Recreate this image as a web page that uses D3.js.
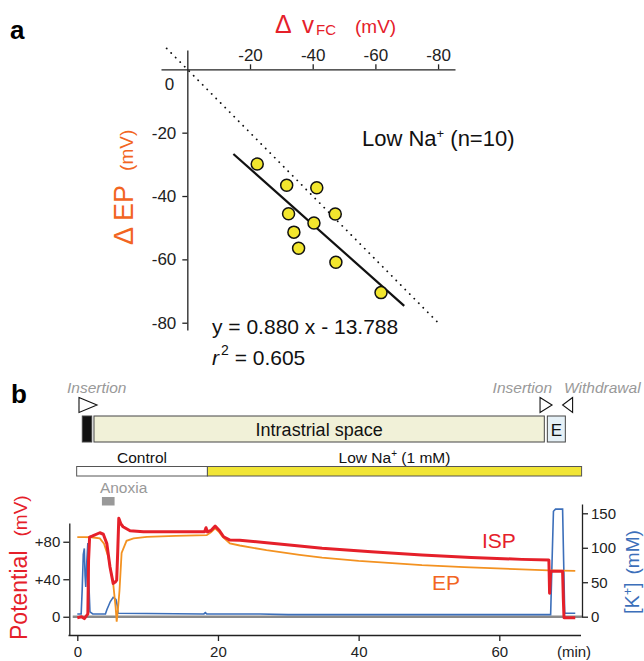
<!DOCTYPE html>
<html>
<head>
<meta charset="utf-8">
<script src="https://cdn.jsdelivr.net/npm/d3@7"></script>
<style>
  body { margin: 0; background: #fff; }
  svg { display: block; font-family: "Liberation Sans", Arial, Helvetica, sans-serif; }
</style>
</head>
<body>
<svg id="fig" width="644" height="661"></svg>
<script>
// ---- panel a : Low Na+ experiments ----
const dVfc = [-22.3, -31.7, -41.3, -32.3, -47.2, -40.4, -34.0, -35.5, -47.4, -61.8];
const dEP  = [-29.9, -36.6, -37.4, -45.6, -45.7, -48.5, -51.4, -56.5, -60.9, -70.5];
const fitSlope = 0.880, fitIntercept = -13.788, fitR2 = 0.605;
const fitSpan = [-14.7, -69.2];       // range of x covered by regression line
const identitySpan = [6.6, -80];      // dotted y = x line
const aTicks = [-20, -40, -60, -80];

// ---- panel b : time course ----
const timeTicks = [0, 20, 40, 60];
const potTicks = [0, 40, 80];
const kTicks = [0, 50, 100, 150];

// [min, mV]
const epTrace = [
  [0, 85], [1, 85], [2, 84.8], [3.2, 83.6], [3.8, 78], [4.4, 64], [5.1, 35.6], [5.45, 10],
  [5.6, -5.3], [5.8, 10], [6.0, 28], [6.3, 68], [7.0, 81], [8, 83.5], [9.9, 85.3], [14, 86.3],
  [18.4, 87], [19.0, 90], [19.6, 94.3], [20.2, 90], [20.7, 85], [21.7, 78.3], [23.1, 76],
  [26.9, 71], [31.6, 66], [34.8, 63], [40, 59.5], [49, 55], [55, 53], [63.2, 50.5], [67, 49.5], [70.8, 49]
];
const ispTrace = [
  [0, -1], [0.6, 0], [1.0, -2], [1.3, 1], [1.5, 3], [1.6, 60], [1.75, 85], [2.1, 86], [3.2, 89.6],
  [3.7, 88], [4.2, 78], [4.65, 53], [5.1, 35.6], [5.4, 37], [5.6, 39], [5.75, 70], [5.9, 105],
  [6.2, 99], [6.5, 96], [7.5, 91.7], [9.4, 90.7], [18.1, 90.7], [18.3, 95], [18.5, 90.5], [19.0, 92],
  [19.6, 96.7], [20.2, 92], [20.8, 85.3], [21.7, 81.8], [23.1, 81.5], [26.9, 79], [31.6, 75.4],
  [34.8, 73], [41.8, 69.4], [49, 65.8], [56, 63.3], [63.2, 61.2], [67.05, 60.5], [67.15, 25],
  [67.3, 48], [67.5, 48.5], [69.0, 48.5], [69.1, 20], [69.2, -1], [70.8, -1]
];
// [min, mM]
const kTrace = [
  [0, 4], [0.55, 4], [0.7, 40], [0.85, 90], [1.0, 99], [1.1, 60], [1.2, 43], [1.35, 80], [1.5, 107],
  [1.6, 60], [1.8, 7], [2.2, 4], [4.0, 4], [4.2, 10], [4.7, 22], [5.1, 28], [5.5, 25], [5.7, 15],
  [5.8, 5], [18, 4], [18.2, 6], [18.4, 4], [26, 4], [30, 3], [67.3, 3], [67.5, 80], [67.7, 153],
  [68, 156], [69.0, 156], [69.15, 80], [69.3, 5], [70.8, 5]
];

// recording protocol (times in min)
const compLabels = ["", "Intrastrial space", "E"];
const compStart = [0.71, 2.37, 66.83];
const compEnd = [2.05, 66.4, 69.39];
const condLabels = ["Control", "Low Na"];
const condStart = [-0.09, 18.5];
const condEnd = [18.5, 71.7];
const anoxia = [3.5, 5.3];
const insertTimes = [2.8, 67.5];
const withdrawTime = 69.0;

const RED = "#e5202a", ORANGE = "#f39221", ORANGE_TXT = "#f26522", BLUE = "#3c6fba";
const AX = "#222";
const plain = d => String(d);   // hyphen minus like the original

const svg = d3.select("#fig");

// ================= panel a =================
svg.append("text").attr("x", 10).attr("y", 39)
  .style("font-size", "26px").style("font-weight", "bold").text("a");

const xA = d3.scaleLinear().domain([8.4, -85.4]).range([161, 455]);
const yA = d3.scaleLinear().domain([6.1, -82.3]).range([50, 330]);

const gA = svg.append("g");

gA.append("g")
  .attr("transform", `translate(0,${yA(0)})`)
  .call(d3.axisTop(xA).tickValues(aTicks).tickFormat(plain).tickSize(5).tickSizeOuter(0).tickPadding(3))
  .call(g => g.selectAll("path,line").attr("stroke", AX).attr("stroke-width", 1.3))
  .call(g => g.selectAll("text").attr("fill", AX).style("font-size", "17px").style("font-family", "inherit"));

gA.append("g")
  .attr("transform", `translate(${xA(0)},0)`)
  .call(d3.axisLeft(yA).tickValues(aTicks).tickFormat(plain).tickSize(5).tickSizeOuter(0).tickPadding(6))
  .call(g => g.selectAll("path,line").attr("stroke", AX).attr("stroke-width", 1.3))
  .call(g => g.selectAll("text").attr("fill", AX).style("font-size", "17px").style("font-family", "inherit"));

gA.append("text").attr("x", xA(0) - 13).attr("y", yA(0) + 21)
  .attr("text-anchor", "end").style("font-size", "17px").attr("fill", AX).text("0");

// identity line
gA.append("line")
  .attr("x1", xA(identitySpan[0])).attr("y1", yA(identitySpan[0]))
  .attr("x2", xA(identitySpan[1])).attr("y2", yA(identitySpan[1]))
  .attr("stroke", "#111").attr("stroke-width", 1.8)
  .attr("stroke-dasharray", "0.1,6.3").attr("stroke-linecap", "round");

// regression line
gA.append("line")
  .attr("x1", xA(fitSpan[0])).attr("y1", yA(fitSlope * fitSpan[0] + fitIntercept))
  .attr("x2", xA(fitSpan[1])).attr("y2", yA(fitSlope * fitSpan[1] + fitIntercept))
  .attr("stroke", "#111").attr("stroke-width", 2.2);

gA.selectAll("circle.pt").data(dVfc.map((v, i) => [v, dEP[i]])).join("circle")
  .attr("class", "pt")
  .attr("cx", d => xA(d[0])).attr("cy", d => yA(d[1])).attr("r", 6)
  .attr("fill", "#f2e62e").attr("stroke", "#111").attr("stroke-width", 1.5);

// axis titles
const tTop = svg.append("text").attr("y", 33).attr("fill", RED);
tTop.append("tspan").attr("x", 275).style("font-size", "25px").text("Δ");
tTop.append("tspan").attr("x", 302).style("font-size", "24px").text("v");
tTop.append("tspan").attr("x", 316).attr("dy", 2).style("font-size", "15px").text("FC");
tTop.append("tspan").attr("x", 355).attr("dy", -2).style("font-size", "19px").text("(mV)");

const tLeft = svg.append("text").attr("transform", "translate(133,245) rotate(-90)").attr("fill", ORANGE_TXT);
tLeft.append("tspan").style("font-size", "27px").text("Δ EP");
tLeft.append("tspan").attr("dx", 14).style("font-size", "19px").text("(mV)");

const tLow = svg.append("text").attr("x", 362).attr("y", 146).attr("fill", "#111").style("font-size", "22px");
tLow.append("tspan").text("Low Na");
tLow.append("tspan").attr("dy", -8).style("font-size", "13px").text("+");
tLow.append("tspan").attr("dy", 8).text(" (n=10)");

svg.append("text").attr("x", 212).attr("y", 334).attr("fill", "#111").style("font-size", "21px")
  .text(`y = ${fitSlope.toFixed(3)} x - ${Math.abs(fitIntercept).toFixed(3)}`);
const tR = svg.append("text").attr("x", 212).attr("y", 365).attr("fill", "#111").style("font-size", "21px");
tR.append("tspan").style("font-style", "italic").text("r");
tR.append("tspan").attr("dx", 2).attr("dy", -10).style("font-size", "14px").text("2");
tR.append("tspan").attr("dy", 10).text(` = ${fitR2.toFixed(3)}`);

// ================= panel b =================
svg.append("text").attr("x", 11).attr("y", 403)
  .style("font-size", "26px").style("font-weight", "bold").text("b");

const tx = d3.scaleLinear().domain([0, 60]).range([77.3, 499.3]);
const py = d3.scaleLinear().domain([-20, 100]).range([635.5, 523]);
const ky = d3.scaleLinear().domain([0, 150]).range([616.7, 513.3]);

const gB = svg.append("g");

// compartments
const compFill = ["#111", "#f1f1d8", "#e6f1f7"];
compLabels.forEach((lab, i) => {
  gB.append("rect")
    .attr("x", tx(compStart[i])).attr("y", 416)
    .attr("width", tx(compEnd[i]) - tx(compStart[i])).attr("height", 26)
    .attr("fill", compFill[i]).attr("stroke", "#444").attr("stroke-width", 1);
  if (lab) gB.append("text")
    .attr("x", (tx(compStart[i]) + tx(compEnd[i])) / 2).attr("y", 436)
    .attr("text-anchor", "middle").style("font-size", i === 1 ? "18px" : "17px").attr("fill", "#111")
    .text(lab);
});

// insertion / withdrawal markers
const markGray = "#999";
insertTimes.forEach((t, i) => {
  const w = i === 0 ? 18 : 12;
  gB.append("path")
    .attr("d", `M${tx(t) - w},397.5 L${tx(t)},405 L${tx(t) - w},412.5 Z`)
    .attr("fill", "#fff").attr("stroke", "#111").attr("stroke-width", 1.1);
  gB.append("text")
    .attr("x", i === 0 ? tx(t) - 30 : tx(t)).attr("y", 393)
    .attr("text-anchor", i === 0 ? "start" : "end")
    .style("font-size", "15.5px").style("font-style", "italic").attr("fill", markGray)
    .text("Insertion");
});
gB.append("path")
  .attr("d", `M${tx(withdrawTime) + 10},397.5 L${tx(withdrawTime)},405 L${tx(withdrawTime) + 10},412.5 Z`)
  .attr("fill", "#fff").attr("stroke", "#111").attr("stroke-width", 1.1);
gB.append("text").attr("x", tx(withdrawTime) + 1.5).attr("y", 393)
  .style("font-size", "15.5px").style("font-style", "italic").attr("fill", markGray)
  .text("Withdrawal");

// perfusion conditions
const condFill = ["#fff", "#f1e536"];
condLabels.forEach((lab, i) => {
  gB.append("rect")
    .attr("x", tx(condStart[i])).attr("y", 466.5)
    .attr("width", tx(condEnd[i]) - tx(condStart[i])).attr("height", 9.5)
    .attr("fill", condFill[i]).attr("stroke", "#555").attr("stroke-width", 1);
  const t = gB.append("text")
    .attr("x", (tx(condStart[i]) + tx(condEnd[i])) / 2).attr("y", 462.5)
    .attr("text-anchor", "middle").style("font-size", "15.5px").attr("fill", "#111");
  t.append("tspan").text(lab);
  if (i === 1) {
    t.append("tspan").attr("dy", -6).style("font-size", "10px").text("+");
    t.append("tspan").attr("dy", 6).text(" (1 mM)");
  }
});

// anoxia
gB.append("rect")
  .attr("x", tx(anoxia[0])).attr("y", 497)
  .attr("width", tx(anoxia[1]) - tx(anoxia[0])).attr("height", 8.5)
  .attr("fill", "#999");
gB.append("text").attr("x", tx(anoxia[0]) - 2).attr("y", 493)
  .style("font-size", "15.5px").attr("fill", "#999").text("Anoxia");

// zero line
gB.append("line")
  .attr("x1", 72.7).attr("x2", 582).attr("y1", py(0)).attr("y2", py(0))
  .attr("stroke", "#8a8a8a").attr("stroke-width", 2.5);

// axes
const styleAx = g => {
  g.selectAll("path,line").attr("stroke", AX).attr("stroke-width", 1.3);
  g.selectAll("text").attr("fill", AX).style("font-size", "15px").style("font-family", "inherit");
};
gB.append("g")
  .attr("transform", "translate(69.3,0)")
  .call(d3.axisLeft(py).tickValues(potTicks).tickSize(6).tickSizeOuter(0).tickPadding(3)
    .tickFormat(d => d > 0 ? "+" + d : String(d)))
  .call(styleAx);

const txAxis = tx.copy().domain([tx.invert(68), tx.invert(580.5)]).range([68, 580.5]);
gB.append("g")
  .attr("transform", "translate(0,635)")
  .call(d3.axisBottom(txAxis).tickValues(timeTicks).tickFormat(plain).tickSize(6).tickSizeOuter(0).tickPadding(5))
  .call(styleAx);
gB.append("text").attr("x", 574).attr("y", 657).attr("text-anchor", "middle")
  .style("font-size", "15px").attr("fill", AX).text("(min)");

const kyAxis = ky.copy().domain([0, ky.invert(504)]).range([616.7, 504]);
gB.append("g")
  .attr("transform", "translate(582,0)")
  .call(d3.axisRight(kyAxis).tickValues(kTicks).tickFormat(plain).tickSize(6).tickSizeOuter(0).tickPadding(3))
  .call(styleAx);

// traces
gB.append("path").datum(kTrace)
  .attr("d", d3.line().x(d => tx(d[0])).y(d => ky(d[1])))
  .attr("fill", "none").attr("stroke", BLUE).attr("stroke-width", 1.6);
gB.append("path").datum(epTrace)
  .attr("d", d3.line().x(d => tx(d[0])).y(d => py(d[1])))
  .attr("fill", "none").attr("stroke", ORANGE).attr("stroke-width", 1.8);
gB.append("path").datum(ispTrace)
  .attr("d", d3.line().x(d => tx(d[0])).y(d => py(d[1])))
  .attr("fill", "none").attr("stroke", RED).attr("stroke-width", 3).attr("stroke-linejoin", "round");

// labels
gB.append("text").attr("x", 482).attr("y", 548).style("font-size", "21px").attr("fill", RED).text("ISP");
gB.append("text").attr("x", 432).attr("y", 590).style("font-size", "21px").attr("fill", ORANGE_TXT).text("EP");

const tPot = svg.append("text").attr("transform", "translate(27,640) rotate(-90)").attr("fill", RED);
tPot.append("tspan").style("font-size", "23px").text("Potential");
tPot.append("tspan").attr("dx", 14).style("font-size", "19px").text("(mV)");

const tK = svg.append("text").attr("transform", "translate(639,614) rotate(-90)").attr("fill", BLUE);
tK.append("tspan").style("font-size", "20px").text("[K");
tK.append("tspan").attr("dy", -7).style("font-size", "12px").text("+");
tK.append("tspan").attr("dy", 7).style("font-size", "20px").text("]");
tK.append("tspan").attr("dx", 8).style("font-size", "19px").text("(mM)");
</script>
</body>
</html>
